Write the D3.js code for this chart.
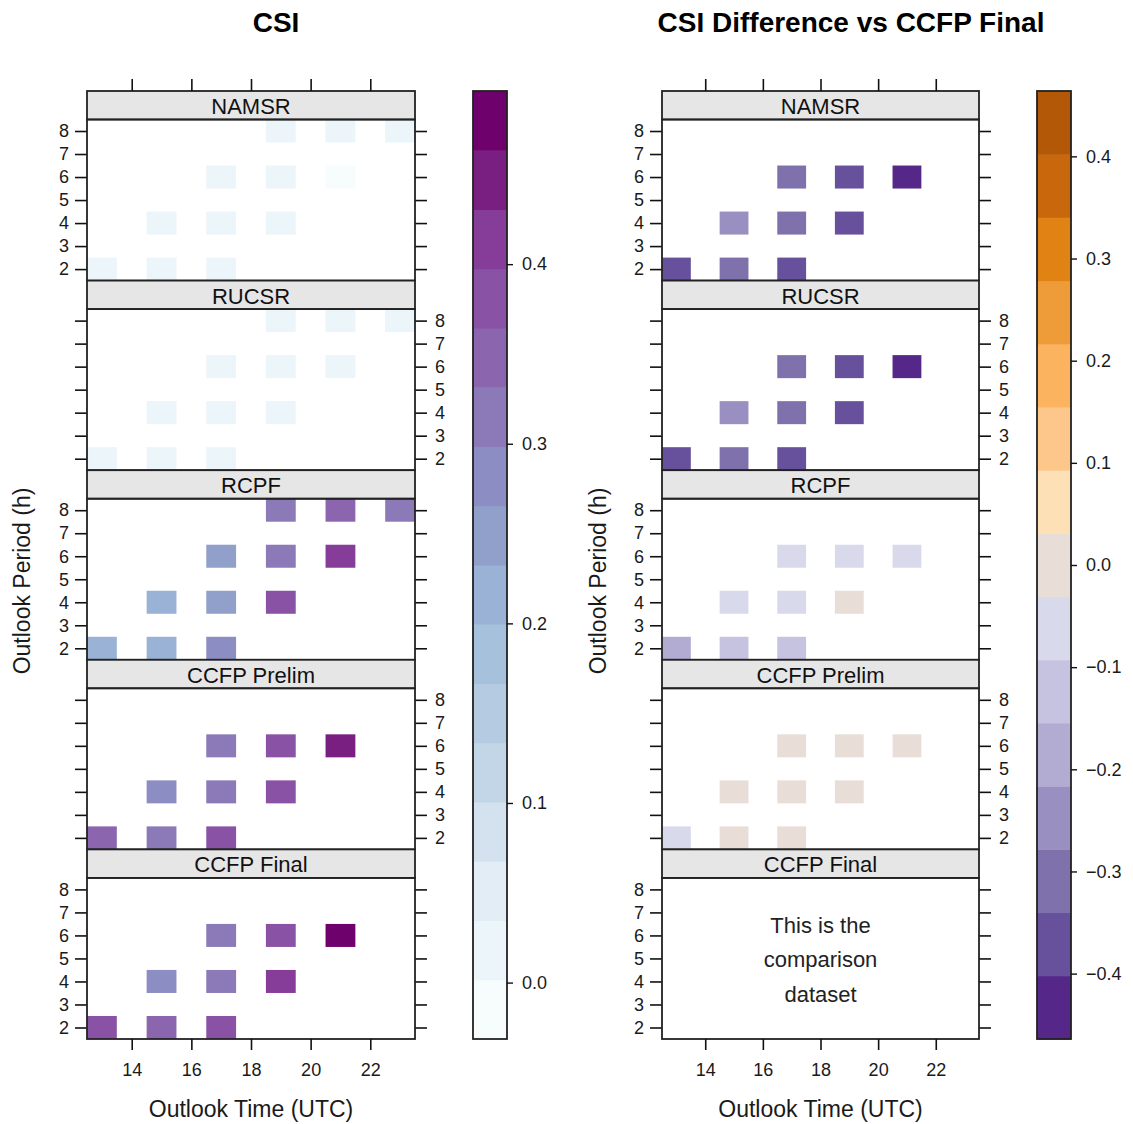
<!DOCTYPE html>
<html>
<head>
<meta charset="utf-8">
<script src="https://cdnjs.cloudflare.com/ajax/libs/d3/7.8.5/d3.min.js"></script>
<style>
  body { margin: 0; background: #fff; }
  svg text { font-family: "Liberation Sans", Arial, Helvetica, sans-serif; fill: #1a1a1a; }
</style>
</head>
<body>
<div id="chart"></div>
<script>

// panels, top to bottom
const models = ["NAMSR", "RUCSR", "RCPF", "CCFP Prelim", "CCFP Final"];

// cell positions (outlook time, outlook period)
const cellTime   = [13, 15, 17, 15, 17, 19, 17, 19, 21, 19, 21, 23];
const cellPeriod = [ 2,  2,  2,  4,  4,  4,  6,  6,  6,  8,  8,  8];

// CSI per model, same order as cells (null = no data)
const csiNAMSR  = [0.020, 0.018, 0.022, 0.020, 0.021, 0.019, 0.020, 0.022, 0.001, 0.019, 0.003, 0.020];
const csiRUCSR  = [0.021, 0.019, 0.022, 0.020, 0.021, 0.023, 0.022, 0.020, 0.020, 0.018, 0.021, 0.020];
const csiRCPF   = [0.215, 0.210, 0.280, 0.215, 0.245, 0.385, 0.250, 0.315, 0.415, 0.310, 0.350, 0.312];
const csiPrelim = [0.335, 0.325, 0.375, 0.280, 0.310, 0.385, 0.310, 0.375, 0.445, null, null, null];
const csiFinal  = [0.380, 0.340, 0.385, 0.285, 0.315, 0.405, 0.315, 0.380, 0.464, null, null, null];

// CSI difference vs CCFP Final
const diffNAMSR  = [-0.360, -0.322, -0.363, -0.265, -0.294, -0.386, -0.295, -0.358, -0.464, null, null, null];
const diffRUCSR  = [-0.359, -0.321, -0.363, -0.265, -0.294, -0.382, -0.293, -0.360, -0.444, null, null, null];
const diffRCPF   = [-0.165, -0.130, -0.105, -0.070, -0.070,  0.020, -0.065, -0.065, -0.049, null, null, null];
const diffPrelim = [-0.045, -0.015, -0.010, -0.005, -0.005, -0.020, -0.005, -0.005, -0.019, null, null, null];

const csiData  = [csiNAMSR, csiRUCSR, csiRCPF, csiPrelim, csiFinal];
const diffData = [diffNAMSR, diffRUCSR, diffRCPF, diffPrelim, null];

const xTicks = [14, 16, 18, 20, 22];
const yTicks = [2, 3, 4, 5, 6, 7, 8];
const csiTicks  = [0.0, 0.1, 0.2, 0.3, 0.4];
const diffTicks = [-0.4, -0.3, -0.2, -0.1, 0.0, 0.1, 0.2, 0.3, 0.4];

// colours
const bupu8 = ["#F7FCFD", "#E0ECF4", "#BFD3E6", "#9EBCDA", "#8C96C6", "#8C6BB1", "#88419D", "#6E016B"];
const diffColors = ["#542788", "#67509C", "#7F71AB", "#998FC0", "#B2ABD2", "#C5C3DF", "#D8DAEB", "#E8DED7",
                    "#FEE0B6", "#FDC68B", "#FBB35F", "#EE9B3A", "#E08214", "#C8670B", "#B35806"];


const W = 1133, H = 1124;
const yTop = 91, yBottom = 1039;
const stripH = 28.5;
const panelH = (yBottom - yTop) / models.length;

const svg = d3.select("#chart").append("svg")
	.attr("width", W)
	.attr("height", H);


// lattice-like breaks: data range extended by 7%, 16 intervals
let allCsi = csiData.flat().filter(d => d != null);
let cMin = d3.min(allCsi), cMax = d3.max(allCsi);
let ext = 0.07 * (cMax - cMin);
let csiBreaks = d3.range(17).map(i => cMin - ext + i * (cMax - cMin + 2 * ext) / 16);
let rampBuPu = d3.scaleLinear()
	.domain(bupu8.map((c, i) => i / 7))
	.range(bupu8)
	.interpolate(d3.interpolateRgb);
let csiColors = d3.range(16).map(i => rampBuPu(i / 15));

// symmetric breaks for the difference, 15 intervals
let allDiff = diffData.filter(d => d).flat().filter(d => d != null);
let dLim = d3.max(allDiff, d => Math.abs(d));
let diffBreaks = d3.range(16).map(i => -dLim + i * 2 * dLim / 15);


function drawSide(opt) {

	let g = svg.append("g");

	let x = d3.scaleLinear().domain([12.5, 23.5]).range([opt.x0, opt.x1]);

	let colour = d3.scaleThreshold()
		.domain(opt.breaks.slice(1, -1))
		.range(opt.colors);

	// title
	g.append("text")
		.attr("x", opt.titleX)
		.attr("y", 32)
		.attr("text-anchor", "middle")
		.style("font-size", "28px")
		.style("font-weight", "bold")
		.style("fill", "#000")
		.text(opt.title);

	models.forEach((m, p) => {

		let sy0 = yTop + p * panelH;
		let py0 = sy0 + stripH;
		let py1 = sy0 + panelH;

		let y = d3.scaleLinear().domain([1.5, 8.5]).range([py1, py0]);

		let pg = g.append("g");

		// cells
		let vals = opt.data[p];
		if (vals) {
			let cells = vals.map((v, i) => ({t: cellTime[i], h: cellPeriod[i], v: v}))
				.filter(d => d.v != null);

			pg.selectAll("rect.cell")
				.data(cells)
				.join("rect")
				.attr("class", "cell")
				.attr("x", d => x(d.t - 0.5))
				.attr("y", d => y(d.h + 0.5))
				.attr("width", d => x(d.t + 0.5) - x(d.t - 0.5))
				.attr("height", d => y(d.h - 0.5) - y(d.h + 0.5))
				.attr("fill", d => colour(d.v));
		} else {
			let note = pg.append("text")
				.attr("x", (opt.x0 + opt.x1) / 2)
				.attr("text-anchor", "middle")
				.style("font-size", "22px")
				.style("fill", "#222");
			["This is the", "comparison", "dataset"].forEach((s, k) => {
				note.append("tspan")
					.attr("x", (opt.x0 + opt.x1) / 2)
					.attr("y", y(6.6) + 11 + k * 34.5)
					.text(s);
			});
		}

		// y axes, labels alternate left/right
		let labelLeft = (p % 2 == 0);

		let axL = d3.axisLeft(y).tickValues(yTicks).tickSize(12).tickPadding(6)
			.tickFormat(labelLeft ? d3.format("d") : "");
		let axR = d3.axisRight(y).tickValues(yTicks).tickSize(12).tickPadding(8)
			.tickFormat(labelLeft ? "" : d3.format("d"));

		[pg.append("g").attr("transform", `translate(${opt.x0},0)`).call(axL),
		 pg.append("g").attr("transform", `translate(${opt.x1},0)`).call(axR)]
		.forEach(a => {
			a.select(".domain").remove();
			a.selectAll(".tick line").attr("stroke", "#111").attr("stroke-width", 1.6);
			a.selectAll(".tick text").style("font-size", "18px").attr("fill", "#1a1a1a");
		});

		// strip
		pg.append("rect")
			.attr("x", opt.x0)
			.attr("y", sy0)
			.attr("width", opt.x1 - opt.x0)
			.attr("height", stripH)
			.attr("fill", "#E6E6E6")
			.attr("stroke", "#222")
			.attr("stroke-width", 1.8);

		pg.append("text")
			.attr("x", (opt.x0 + opt.x1) / 2)
			.attr("y", sy0 + stripH / 2 + 1)
			.attr("dy", "0.35em")
			.attr("text-anchor", "middle")
			.style("font-size", "22px")
			.style("fill", "#111")
			.text(m);

		// panel border
		pg.append("rect")
			.attr("x", opt.x0)
			.attr("y", py0)
			.attr("width", opt.x1 - opt.x0)
			.attr("height", py1 - py0)
			.attr("fill", "none")
			.attr("stroke", "#222")
			.attr("stroke-width", 1.8);
	});

	// top ticks (no labels), bottom axis
	let axTop = g.append("g")
		.attr("transform", `translate(0,${yTop})`)
		.call(d3.axisTop(x).tickValues(xTicks).tickSize(12).tickFormat(""));
	let axBot = g.append("g")
		.attr("transform", `translate(0,${yBottom})`)
		.call(d3.axisBottom(x).tickValues(xTicks).tickSize(11).tickPadding(13));
	[axTop, axBot].forEach(a => {
		a.select(".domain").remove();
		a.selectAll(".tick line").attr("stroke", "#111").attr("stroke-width", 1.6);
		a.selectAll(".tick text").style("font-size", "18px").attr("fill", "#1a1a1a");
	});

	// axis titles
	g.append("text")
		.attr("x", (opt.x0 + opt.x1) / 2)
		.attr("y", 1117)
		.attr("text-anchor", "middle")
		.style("font-size", "23px")
		.text("Outlook Time (UTC)");

	g.append("text")
		.attr("transform", `translate(${opt.ylabX},581) rotate(-90)`)
		.attr("text-anchor", "middle")
		.style("font-size", "23px")
		.text("Outlook Period (h)");

	// colour key
	let br = opt.breaks;
	let ky = d3.scaleLinear().domain([br[0], br[br.length - 1]]).range([yBottom, yTop]);

	let key = g.append("g");
	key.selectAll("rect.band")
		.data(d3.range(br.length - 1))
		.join("rect")
		.attr("class", "band")
		.attr("x", opt.k0)
		.attr("width", opt.k1 - opt.k0)
		.attr("y", i => ky(br[i + 1]))
		.attr("height", i => ky(br[i]) - ky(br[i + 1]) + 0.5)
		.attr("fill", i => opt.colors[i]);

	key.append("rect")
		.attr("x", opt.k0)
		.attr("y", yTop)
		.attr("width", opt.k1 - opt.k0)
		.attr("height", yBottom - yTop)
		.attr("fill", "none")
		.attr("stroke", "#222")
		.attr("stroke-width", 1.8);

	let axKey = key.append("g")
		.attr("transform", `translate(${opt.k1},0)`)
		.call(d3.axisRight(ky).tickValues(opt.ticks).tickSize(6).tickPadding(9)
			.tickFormat(d => d3.format(".1f")(d).replace("-", "\u2212")));
	axKey.select(".domain").remove();
	axKey.selectAll(".tick line").attr("stroke", "#111").attr("stroke-width", 1.4);
	axKey.selectAll(".tick text").style("font-size", "18px").attr("fill", "#1a1a1a");
}


drawSide({
	title: "CSI", titleX: 276,
	x0: 87, x1: 415, k0: 473, k1: 507, ylabX: 30,
	data: csiData, breaks: csiBreaks, colors: csiColors, ticks: csiTicks
});

drawSide({
	title: "CSI Difference vs CCFP Final", titleX: 851,
	x0: 662, x1: 979, k0: 1037, k1: 1071, ylabX: 606,
	data: diffData, breaks: diffBreaks, colors: diffColors, ticks: diffTicks
});

</script>
</body>
</html>
